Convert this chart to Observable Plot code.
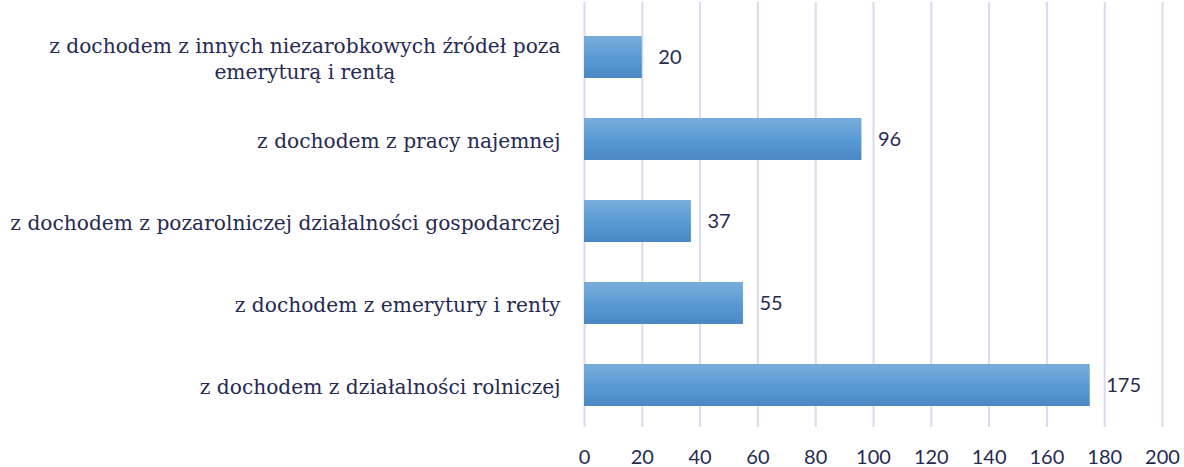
<!DOCTYPE html>
<html><head><meta charset="utf-8">
<script src="https://cdn.jsdelivr.net/npm/d3@7"></script>
<script src="https://cdn.jsdelivr.net/npm/@observablehq/plot@0.6"></script>
<style>
html,body{margin:0;padding:0;background:#fff;}
</style></head>
<body><div id="chart"></div>
<script>
const categories = [
  "z dochodem z innych niezarobkowych źródeł poza\nemeryturą i rentą",
  "z dochodem z pracy najemnej",
  "z dochodem z pozarolniczej działalności gospodarczej",
  "z dochodem z emerytury i renty",
  "z dochodem z działalności rolniczej"
];
const values = [20, 96, 37, 55, 175];
const xTicks = [0, 20, 40, 60, 80, 100, 120, 140, 160, 180, 200];

const data = categories.map((c, i) => ({category: c, value: values[i]}));
const textColor = "#262a52";

const gradientDefs = () => {
  const defs = d3.create("svg:defs");
  const g = defs.append("linearGradient").attr("id", "barGrad")
    .attr("x1", 0).attr("y1", 0).attr("x2", 0).attr("y2", 1);
  g.append("stop").attr("offset", "0%").attr("stop-color", "#7aaddc");
  g.append("stop").attr("offset", "50%").attr("stop-color", "#5b9bd5");
  g.append("stop").attr("offset", "100%").attr("stop-color", "#4a87c3");
  return defs.node();
};

const chart = Plot.plot({
  width: 1184,
  height: 467,
  marginLeft: 584,
  marginRight: 22,
  marginTop: 2,
  marginBottom: 40,
  insetTop: 12,
  x: {domain: [0, 200], ticks: xTicks},
  y: {domain: categories, paddingInner: 0.49, paddingOuter: 0.245, axis: null},
  marks: [
    gradientDefs,
    Plot.ruleX(xTicks, {stroke: "#d9d9ef", strokeWidth: 2}),
    Plot.barX(data, {y: "category", x: "value", fill: "url(#barGrad)"}),
    Plot.text(data, {y: "category", x: "value", text: d => String(d.value), textAnchor: "start", dx: 16,
      fill: textColor, fontSize: 20, fontFamily: "Lato"}),
    Plot.text(data, {y: "category", text: "category", frameAnchor: "left", textAnchor: "end", dx: -24,
      fill: textColor, fontSize: 20.2, fontFamily: "DejaVu Serif", lineHeight: 1.3, className: "ylab"}),
    Plot.axisX({ticks: xTicks, tickSize: 0, tickPadding: 22, fontSize: 20, fontFamily: "Lato", color: textColor, tickFormat: d => String(d), label: null})
  ]
});
document.getElementById("chart").appendChild(chart);

// center the second line of the wrapped label under the first line
const lab = chart.querySelector(".ylab text");
if (lab) {
  const spans = lab.querySelectorAll("tspan");
  if (spans.length > 1) {
    const w = spans[0].getComputedTextLength();
    lab.setAttribute("text-anchor", "middle");
    spans.forEach(s => s.setAttribute("x", -w / 2));
  }
}
</script></body></html>
